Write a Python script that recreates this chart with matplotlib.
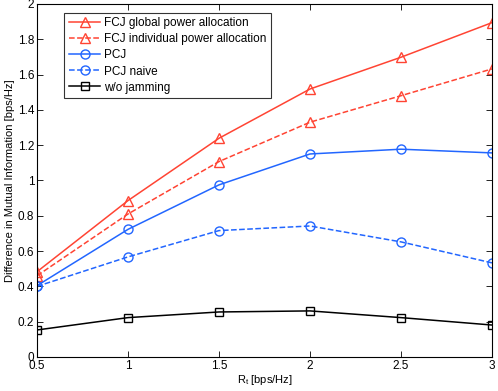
import matplotlib
matplotlib.use('Agg')
import matplotlib.pyplot as plt

plt.rcParams['font.family'] = ['Liberation Sans', 'DejaVu Sans']

rate = [0.5, 1.0, 1.5, 2.0, 2.5, 3.0]
fcj_global = [0.483, 0.886, 1.239, 1.518, 1.698, 1.894]
fcj_indiv = [0.46, 0.81, 1.107, 1.33, 1.48, 1.632]
pcj = [0.404, 0.723, 0.975, 1.150, 1.177, 1.156]
pcj_naive = [0.40, 0.567, 0.716, 0.742, 0.652, 0.533]
no_jam = [0.153, 0.223, 0.255, 0.261, 0.223, 0.181]

RED = '#FF4433'
BLUE = '#2266FF'

fig = plt.figure(figsize=(4.98, 3.91), dpi=100)
ax = fig.add_axes([0.0743, 0.087, 0.9137, 0.903])

mk = dict(markersize=6.5, markerfacecolor='none', markeredgewidth=1.0, linewidth=1.1)
ax.plot(rate, fcj_global, '-', marker='^', color=RED, label='FCJ global power allocation', **mk)
ax.plot(rate, fcj_indiv, '--', marker='^', color=RED, label='FCJ individual power allocation', **mk)
ax.plot(rate, pcj, '-', marker='o', color=BLUE, label='PCJ', **mk)
ax.plot(rate, pcj_naive, '--', marker='o', color=BLUE, label='PCJ naive', **mk)
ax.plot(rate, no_jam, '-', marker='s', color='black', label='w/o jamming',
        markersize=5.5, markerfacecolor='none', markeredgewidth=1.0, linewidth=1.1)

ax.set_xlim(0.5, 3)
ax.set_ylim(0, 2)
ax.set_xticks([0.5, 1, 1.5, 2, 2.5, 3])
ax.set_xticklabels(['0.5', '1', '1.5', '2', '2.5', '3'])
ax.set_yticks([0, 0.2, 0.4, 0.6, 0.8, 1, 1.2, 1.4, 1.6, 1.8, 2])
ax.set_yticklabels(['0', '0.2', '0.4', '0.6', '0.8', '1', '1.2', '1.4', '1.6', '1.8', '2'])
ax.tick_params(direction='in', top=True, right=True, labelsize=8.5, length=4, width=0.6, pad=2)
for s in ax.spines.values():
    s.set_linewidth(0.8)

ax.set_xlabel('R$_\\mathregular{t}$ [bps/Hz]', fontsize=8, labelpad=1)
ax.set_ylabel('Difference in Mutual Information [bps/Hz]', fontsize=8, labelpad=2)

leg = ax.legend(loc='upper left', bbox_to_anchor=(0.059, 0.975), fontsize=8.5,
                frameon=True, fancybox=False, handlelength=2.7, handletextpad=0.3,
                labelspacing=0.34, borderpad=0.4, borderaxespad=0.0)
leg.get_frame().set_edgecolor('black')
leg.get_frame().set_linewidth(0.8)

fig.savefig('out.png', dpi=100)
